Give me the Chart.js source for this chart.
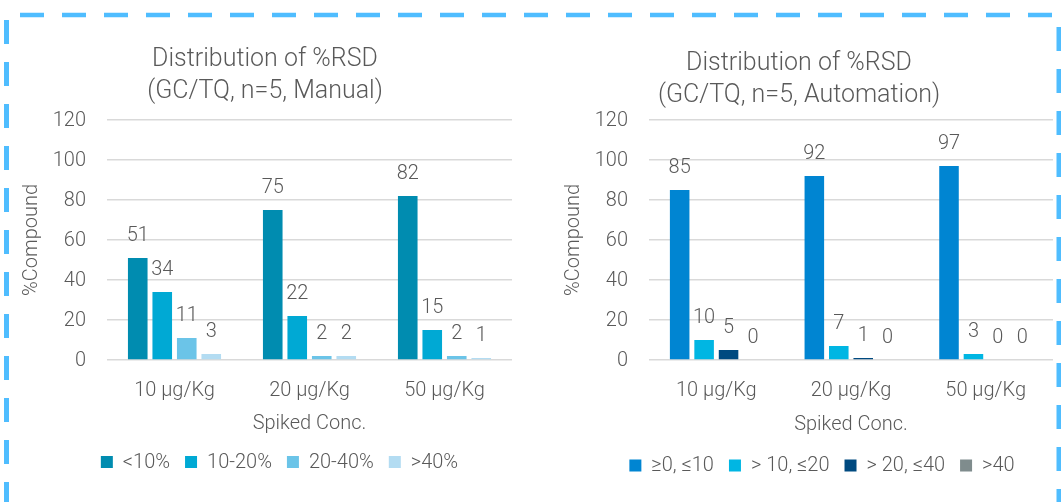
<!DOCTYPE html>
<html>
<head>
<meta charset="utf-8">
<script src="https://cdn.jsdelivr.net/npm/chart.js@4.4.1/dist/chart.umd.min.js"></script>
<style>
  html, body { margin: 0; padding: 0; background: #ffffff; }
  body { width: 1061px; height: 502px; position: relative; overflow: hidden; }
  .frame { position: absolute; left: 0; top: 0; }
  #manual { position: absolute; left: 18px; top: 0; }
  #auto { position: absolute; left: 545px; top: 0; }
</style>
</head>
<body>
<svg class="frame" width="1061" height="502" xmlns="http://www.w3.org/2000/svg">
  <g stroke="#4fbdff" fill="none" stroke-dasharray="24 18">
    <line x1="20" y1="15" x2="1061" y2="15" stroke-width="4.5"/>
    <line x1="6.5" y1="20" x2="6.5" y2="502" stroke-width="5"/>
    <line x1="1059" y1="27" x2="1059" y2="502" stroke-width="5"/>
  </g>
</svg>
<canvas id="manual" width="494" height="502"></canvas>
<canvas id="auto" width="508" height="502"></canvas>
<script>
// Spiked concentration levels shared by both panels
const concLevels = ['10 µg/Kg', '20 µg/Kg', '50 µg/Kg'];

// Manual preparation: % of compounds per %RSD bin
const manualBins = ['<10%', '10-20%', '20-40%', '>40%'];
const manualBelow10 = [51, 75, 82];
const manual10to20 = [34, 22, 15];
const manual20to40 = [11, 2, 2];
const manualAbove40 = [3, 2, 1];

// Automated preparation: % of compounds per %RSD bin
const autoBins = ['≥0, ≤10', '> 10, ≤20', '> 20, ≤40', '>40'];
const auto0to10 = [85, 92, 97];
const auto10to20 = [10, 7, 3];
const auto20to40 = [5, 1, 0];
const autoAbove40 = [0, 0, 0];

const yTicks = [0, 20, 40, 60, 80, 100, 120];

const TEXT = '#595959';
const FAMILY = '"Roboto Light", Roboto, "Liberation Sans", sans-serif';

Chart.defaults.font.family = FAMILY;
Chart.defaults.font.weight = 300;
Chart.defaults.font.size = 20;
Chart.defaults.color = TEXT;

// Writes each bar's value just above its top
const valueLabels = {
  id: 'valueLabels',
  afterDatasetsDraw(chart, args, opts) {
    const ctx = chart.ctx;
    ctx.save();
    ctx.font = '300 20px ' + FAMILY;
    ctx.fillStyle = TEXT;
    ctx.textAlign = 'center';
    ctx.textBaseline = 'middle';
    chart.data.datasets.forEach((ds, i) => {
      chart.getDatasetMeta(i).data.forEach((bar, j) => {
        ctx.fillText(String(ds.data[j]), bar.x, bar.y - opts.offset);
      });
    });
    ctx.restore();
  }
};

// Nudges the bottom legend sideways after layout
const legendShift = {
  id: 'legendShift',
  afterLayout(chart, args, opts) {
    const lg = chart.legend;
    if (lg && opts.dx) { lg.left += opts.dx; lg.right += opts.dx; }
  }
};

function panel(canvasId, titleLines, bins, series, colors, cfg) {
  return new Chart(document.getElementById(canvasId), {
    type: 'bar',
    data: {
      labels: concLevels,
      datasets: bins.map((name, i) => ({
        label: name,
        data: series[i],
        backgroundColor: colors[i],
        borderWidth: 0,
        categoryPercentage: 0.726,
        barPercentage: 0.8
      }))
    },
    options: {
      responsive: false,
      animation: false,
      devicePixelRatio: 1,
      layout: { padding: { left: 0, right: 0, top: 0, bottom: cfg.bottomPad } },
      plugins: {
        title: {
          display: true,
          text: titleLines,
          color: TEXT,
          font: { size: 25, weight: 300, lineHeight: 1.3 },
          padding: { top: cfg.titleTop, bottom: cfg.titleBottom }
        },
        legend: {
          position: 'bottom',
          labels: {
            boxWidth: 12,
            boxHeight: 12,
            padding: 15,
            color: TEXT,
            font: { size: 20, weight: 300 }
          }
        },
        tooltip: { enabled: false },
        valueLabels: { offset: 23 },
        legendShift: { dx: cfg.legendDx }
      },
      scales: {
        x: {
          grid: { display: false, drawTicks: false },
          border: { display: false },
          ticks: { padding: cfg.xTickPad, color: TEXT, font: { size: 20, weight: 300 } },
          afterFit(scale) { scale.height = cfg.xHeight; },
          title: {
            display: true,
            text: 'Spiked Conc.',
            color: TEXT,
            font: { size: 20, weight: 300 },
            padding: { top: 4, bottom: cfg.xTitleBottom }
          }
        },
        y: {
          min: 0,
          max: 120,
          afterBuildTicks(scale) { scale.ticks = yTicks.map(v => ({ value: v })); },
          afterFit(scale) { scale.width = cfg.yWidth; },
          grid: { color: '#d9d9d9', lineWidth: 1.5, drawTicks: false },
          border: { display: false },
          ticks: { padding: 21, color: TEXT, font: { size: 20, weight: 300 } },
          title: {
            display: true,
            text: '%Compound',
            color: TEXT,
            font: { size: 20, weight: 300 },
            padding: { top: cfg.yTitleTop, bottom: 4 }
          }
        }
      }
    },
    plugins: [valueLabels, legendShift]
  });
}

panel('manual',
  ['Distribution of %RSD', '(GC/TQ, n=5, Manual)'],
  manualBins,
  [manualBelow10, manual10to20, manual20to40, manualAbove40],
  ['#008cb0', '#00a9d4', '#6bc4e8', '#b3dcf2'],
  { titleTop: 42, titleBottom: 13, yTitleTop: 1, yWidth: 89,
    xHeight: 77, xTickPad: 18, xTitleBottom: 2, bottomPad: 20, legendDx: 14.5 });

panel('auto',
  ['Distribution of %RSD', '(GC/TQ, n=5, Automation)'],
  autoBins,
  [auto0to10, auto10to20, auto20to40, autoAbove40],
  ['#0085d2', '#00b6e3', '#004a80', '#7f8c8d'],
  { titleTop: 46, titleBottom: 9, yTitleTop: 16, yWidth: 104,
    xHeight: 80.5, xTickPad: 18, xTitleBottom: 4.5, bottomPad: 16.5, legendDx: 23 });
</script>
</body>
</html>
